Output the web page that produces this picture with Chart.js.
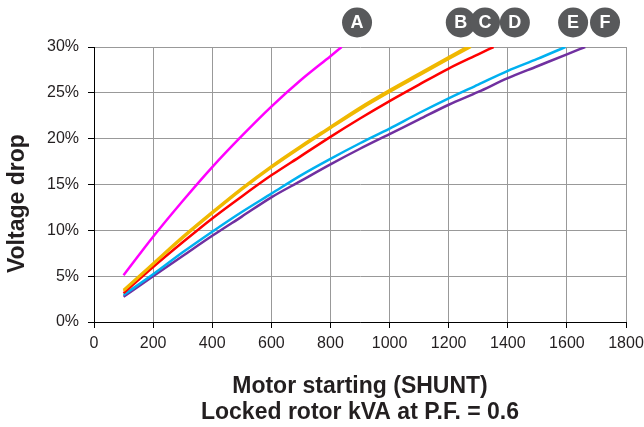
<!DOCTYPE html>
<html>
<head>
<meta charset="utf-8">
<script src="https://cdn.jsdelivr.net/npm/chart.js@4/dist/chart.umd.min.js"></script>
<style>
  html, body { margin: 0; padding: 0; background: #fff; }
  #wrap { width: 644px; height: 427px; position: relative; }
</style>
</head>
<body>
<div id="wrap"><canvas id="c"></canvas></div>
<script>
// ---- Data ----
const xTicks = [0, 200, 400, 600, 800, 1000, 1200, 1400, 1600, 1800];
const yTicks = [0, 5, 10, 15, 20, 25, 30];

const seriesNames = ['A', 'B', 'C', 'D', 'E', 'F'];

const aX = [100, 200, 300, 400, 500, 600, 700, 800, 838];
const aY = [5.1, 9.3, 13.2, 16.9, 20.3, 23.5, 26.4, 29.0, 30.0];

const bX = [100, 200, 300, 400, 500, 600, 700, 800, 900, 1000, 1100, 1200, 1262];
const bY = [3.5, 6.4, 9.3, 12.0, 14.6, 17.0, 19.2, 21.3, 23.4, 25.3, 27.1, 28.9, 30.0];

const cX = [100, 200, 300, 400, 500, 600, 700, 800, 900, 1000, 1100, 1200, 1275];
const cY = [3.4, 6.3, 9.15, 11.85, 14.45, 16.85, 19.05, 21.15, 23.2, 25.1, 26.9, 28.7, 30.0];

const dX = [100, 200, 300, 400, 500, 600, 700, 800, 900, 1000, 1100, 1200, 1300, 1352];
const dY = [3.15, 6.0, 8.7, 11.3, 13.7, 16.0, 18.1, 20.2, 22.2, 24.1, 25.9, 27.65, 29.2, 30.0];

const eX = [100, 200, 300, 400, 500, 600, 700, 800, 900, 1000, 1100, 1200, 1300, 1400, 1500, 1595];
const eY = [2.95, 5.2, 7.6, 9.85, 12.0, 14.0, 16.0, 17.8, 19.5, 21.1, 22.8, 24.4, 25.9, 27.4, 28.7, 30.0];

const fX = [100, 200, 300, 400, 500, 600, 700, 800, 900, 1000, 1100, 1200, 1300, 1400, 1500, 1600, 1662];
const fY = [2.75, 5.0, 7.2, 9.4, 11.5, 13.6, 15.4, 17.2, 18.9, 20.5, 22.1, 23.7, 25.1, 26.6, 27.9, 29.2, 30.0];

// badge positions along the x axis (kVA units)
const badgeX = [890, 1241, 1323, 1424, 1621, 1729];

const xTitle = ['Motor starting (SHUNT)', 'Locked rotor kVA at P.F. = 0.6'];
const yTitle = 'Voltage drop';

// ---- styles ----
const colors = ['#FF00FF', '#F0B800', '#F0B800', '#FF0000', '#00B0F0', '#7030A0'];
const allX = [aX, bX, cX, dX, eX, fX];
const allY = [aY, bY, cY, dY, eY, fY];

const tickFont = { family: "'Liberation Sans', Arial, sans-serif", size: 16 };
const titleFont = { family: "'Liberation Sans', Arial, sans-serif", size: 23, weight: 'bold', lineHeight: '26px' };
const textColor = '#231F20';

const datasets = seriesNames.map((name, i) => ({
  label: name,
  data: allX[i].map((x, j) => ({ x: x, y: allY[i][j] })),
  borderColor: colors[i],
  backgroundColor: colors[i],
  borderWidth: 2.5,
  pointRadius: 0,
  fill: false,
  cubicInterpolationMode: 'monotone'
}));

const badgePlugin = {
  id: 'badges',
  afterDraw(chart) {
    const ctx = chart.ctx;
    const xs = chart.scales.x;
    const cy = chart.chartArea.top - 24.5;
    ctx.save();
    seriesNames.forEach((name, i) => {
      const cx = xs.getPixelForValue(badgeX[i]);
      ctx.beginPath();
      ctx.arc(cx, cy, 15, 0, Math.PI * 2);
      ctx.fillStyle = '#58595B';
      ctx.fill();
      ctx.fillStyle = '#FFFFFF';
      ctx.font = "bold 18px 'Liberation Sans', Arial, sans-serif";
      ctx.textAlign = 'center';
      ctx.textBaseline = 'middle';
      ctx.fillText(name, cx, cy + 1);
    });
    ctx.restore();
  }
};

new Chart(document.getElementById('c'), {
  type: 'line',
  data: { datasets: datasets },
  options: {
    responsive: true,
    maintainAspectRatio: false,
    animation: false,
    devicePixelRatio: 1,
    layout: { padding: { top: 47, right: 18, left: 0, bottom: 0 } },
    plugins: { legend: { display: false }, tooltip: { enabled: false } },
    scales: {
      x: {
        type: 'linear',
        min: 0, max: 1800,
        afterBuildTicks(scale) { scale.ticks = xTicks.map(v => ({ value: v })); },
        afterFit(scale) { scale.height = 105; scale.paddingRight = 0; scale.paddingLeft = 0; },
        ticks: { font: tickFont, color: textColor, padding: 6, maxRotation: 0, autoSkip: false, callback: v => String(v) },
        grid: { color: '#999999', lineWidth: 1, drawTicks: true, tickLength: 6, tickColor: '#000000' },
        border: { color: '#000000', width: 1 },
        title: { display: true, text: xTitle, font: titleFont, color: textColor, padding: { top: 0, bottom: 1 } }
      },
      y: {
        type: 'linear',
        min: 0, max: 30,
        afterBuildTicks(scale) { scale.ticks = yTicks.map(v => ({ value: v })); },
        afterFit(scale) { scale.width = 94; },
        ticks: { font: tickFont, color: textColor, padding: 9, callback: v => v + '%' },
        grid: { color: '#999999', lineWidth: 1, drawTicks: true, tickLength: 6, tickColor: '#000000' },
        border: { color: '#000000', width: 1 },
        title: { display: true, text: yTitle + '      ', font: titleFont, color: textColor, padding: { top: 5, bottom: 0 } }
      }
    }
  },
  plugins: [badgePlugin]
});
</script>
</body>
</html>
